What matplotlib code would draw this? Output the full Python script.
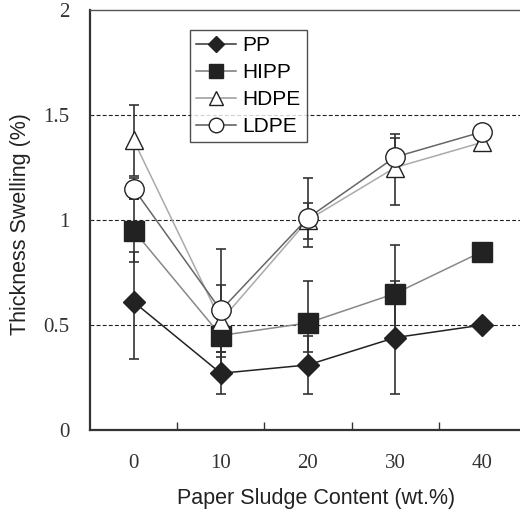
import numpy as np
import matplotlib
matplotlib.use("Agg")
import matplotlib.pyplot as plt

content = ["0", "10", "20", "30", "40"]

pp = [0.61, 0.27, 0.31, 0.44, 0.50]
pp_err_lo = [0.27, 0.10, 0.14, 0.27, 0.0]
pp_err_hi = [0.24, 0.10, 0.14, 0.27, 0.0]

hipp = [0.95, 0.45, 0.51, 0.65, 0.85]
hipp_err_lo = [0.15, 0.08, 0.14, 0.24, 0.0]
hipp_err_hi = [0.15, 0.08, 0.20, 0.23, 0.0]

hdpe = [1.38, 0.52, 1.00, 1.25, 1.37]
hdpe_err_lo = [0.17, 0.17, 0.09, 0.18, 0.0]
hdpe_err_hi = [0.17, 0.17, 0.08, 0.16, 0.0]

ldpe = [1.15, 0.57, 1.01, 1.30, 1.42]
ldpe_err_lo = [0.05, 0.29, 0.14, 0.09, 0.0]
ldpe_err_hi = [0.05, 0.29, 0.19, 0.09, 0.0]

serif = ["Liberation Serif", "DejaVu Serif"]
sans = ["Liberation Sans", "DejaVu Sans"]

fig = plt.figure(figsize=(5.2, 5.13), dpi=100)
ax = fig.add_axes([90 / 520, 83 / 513, 436 / 520, 420 / 513])

x = np.arange(len(content))

# dashed reference lines
for yv in [0.5, 1.0, 1.5]:
    ax.axhline(yv, color="#222222", lw=0.8, ls=(0, (3.5, 2)), zorder=1)

series = [
    ("PP", pp, pp_err_lo, pp_err_hi, "D", 11, "#222222", "#222222", "#333333"),
    ("HIPP", hipp, hipp_err_lo, hipp_err_hi, "s", 14, "#222222", "#888888", "#777777"),
    ("HDPE", hdpe, hdpe_err_lo, hdpe_err_hi, "^", 13, "white", "#aaaaaa", "#999999"),
    ("LDPE", ldpe, ldpe_err_lo, ldpe_err_hi, "o", 14, "white", "#666666", "#555555"),
]

handles = []
for name, vals, lo, hi, mk, ms, fc, lc, lgc in series:
    ax.errorbar(x, vals, yerr=[lo, hi], fmt="none", ecolor="#333333",
                elinewidth=1.2, capsize=3.6, capthick=1.2, zorder=2)
    ax.plot(x, vals, color=lc, lw=1.1, zorder=3)
    ax.plot(x, vals, ls="none", marker=mk, ms=ms, mfc=fc, mec="#222222",
            mew=1.0, zorder=4)
    h, = ax.plot([], [], color=lgc, lw=1.1, marker=mk, ms=ms * 0.75,
                 mfc=fc, mec="#222222", mew=1.0, label=name)
    handles.append(h)

ax.set_xlim(-0.5, 4.5)
ax.set_ylim(0, 2)
ax.set_yticks([0, 0.5, 1, 1.5, 2])
ax.set_yticklabels(["0", "0.5", "1", "1.5", "2"], family=serif, fontsize=15,
                   color="#333333")
ax.tick_params(axis="y", length=0, pad=15)

ax.set_xticks(x)
ax.set_xticklabels(content, family=serif, fontsize=15, color="#333333")
ax.set_xticks([0.5, 1.5, 2.5, 3.5], minor=True)
ax.tick_params(axis="x", which="major", length=0, pad=17)
ax.tick_params(axis="x", which="minor", direction="in", length=6,
               width=1.0, color="#333333")

ax.spines["right"].set_visible(False)
ax.spines["left"].set_linewidth(1.6)
ax.spines["bottom"].set_linewidth(1.6)
ax.spines["top"].set_linewidth(1.0)
for s in ["left", "bottom"]:
    ax.spines[s].set_color("#333333")
ax.spines["top"].set_color("#555555")

ax.set_xlabel("Paper Sludge Content (wt.%)", family=sans, fontsize=15.5,
              color="#222222")
ax.xaxis.set_label_coords((316 - 90) / 436, -(488 - 430) / 420)
ax.set_ylabel("Thickness Swelling (%)", family=sans, fontsize=15.5,
              color="#222222")
ax.yaxis.set_label_coords(-(90 - 31) / 436, 0.49)

leg = ax.legend(handles=handles, loc="upper left",
                bbox_to_anchor=((190 - 90) / 436, (430 - 30) / 420),
                borderaxespad=0, frameon=True, fancybox=False,
                prop={"family": sans, "size": 15}, handlelength=1.9,
                handletextpad=0.3, labelspacing=0.38, borderpad=0.3)
leg.get_frame().set_edgecolor("#222222")
leg.get_frame().set_linewidth(1.0)
leg.set_zorder(5)

fig.savefig("out.png", dpi=100)
